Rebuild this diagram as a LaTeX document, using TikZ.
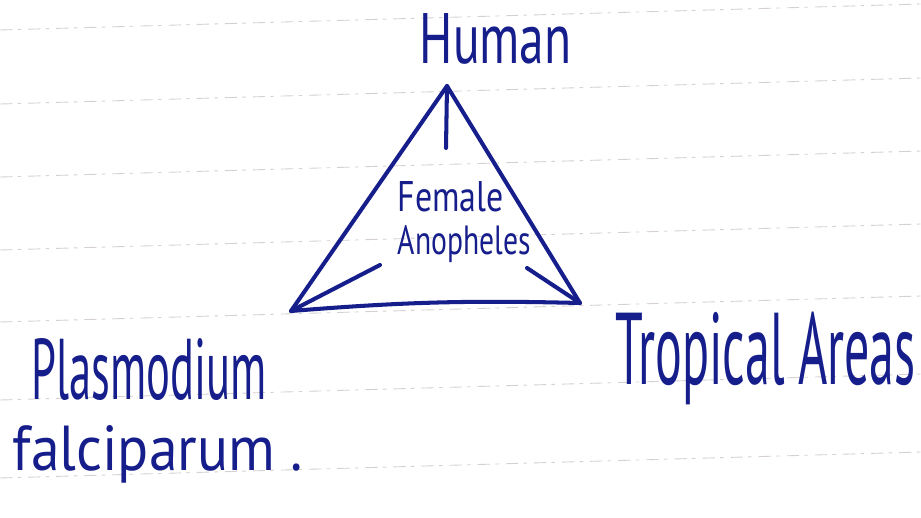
\documentclass[tikz,border=0pt]{standalone}
\usepackage{fontspec}
\usepackage{graphicx}
\setsansfont{PT Sans}
\usepackage{tikz}
\usepackage{xcolor}

\definecolor{ink}{RGB}{22,30,140}
\definecolor{ruling}{RGB}{215,208,211}

% hand lettering squeezed to the size of the note
\newcommand{\handtext}[3]{\resizebox{#1}{#2}{\sffamily #3}}

\begin{document}
\begin{tikzpicture}[x=0.02cm, y=-0.02cm, thick]
  \useasboundingbox (0, 0) rectangle (921, 518);
  \fill[white] (0, 0) rectangle (921, 518);
  % Ruled lines of the notebook page
  \foreach \ly in {30, 104, 177, 250, 322, 400, 478}
    \draw[ruling, line width=0.5pt, dash pattern=on 7pt off 3pt on 2pt off 4pt]
      (0, \ly) -- (921, \ly-26);
  % Corners of the triangle
  \coordinate (hum) at (447, 86);
  \coordinate (pla) at (291, 311);
  \coordinate (tro) at (580, 303);
  % Triangle
  \draw[ink, line width=2.3pt, line join=round, line cap=round]
    (pla) -- (hum) -- (tro) to[bend right=3] (pla);
  % Spokes towards the centre
  \coordinate (humin) at (446, 148);
  \coordinate (plain) at (380, 265);
  \coordinate (troin) at (527, 268);
  \draw[ink, line width=2.3pt, line cap=round] (hum) -- (humin);
  \draw[ink, line width=2.3pt, line cap=round] (pla) -- (plain);
  \draw[ink, line width=2.3pt, line cap=round] (tro) -- (troin);
  % Labels
  \node[text=ink, inner sep=0, anchor=base west] (human) at (419, 63)
    {\handtext{3.04cm}{1.0cm}{Human}};
  \node[text=ink, inner sep=0, anchor=base west] (female) at (397, 211)
    {\handtext{2.12cm}{0.6cm}{Female}};
  \node[text=ink, inner sep=0, anchor=base west] (anoph) at (397, 254)
    {\handtext{2.66cm}{0.58cm}{Anopheles}};
  \node[text=ink, inner sep=0, anchor=base west] (tropic) at (615, 384)
    {\handtext{6.0cm}{1.45cm}{Tropical Areas}};
  \node[text=ink, inner sep=0, anchor=base west] (plasmo) at (31, 399)
    {\handtext{4.7cm}{1.22cm}{Plasmodium}};
  \node[text=ink, inner sep=0, anchor=base west] (falci) at (12, 470)
    {\handtext{5.8cm}{0.9cm}{falciparum .}};
\end{tikzpicture}
\end{document}
